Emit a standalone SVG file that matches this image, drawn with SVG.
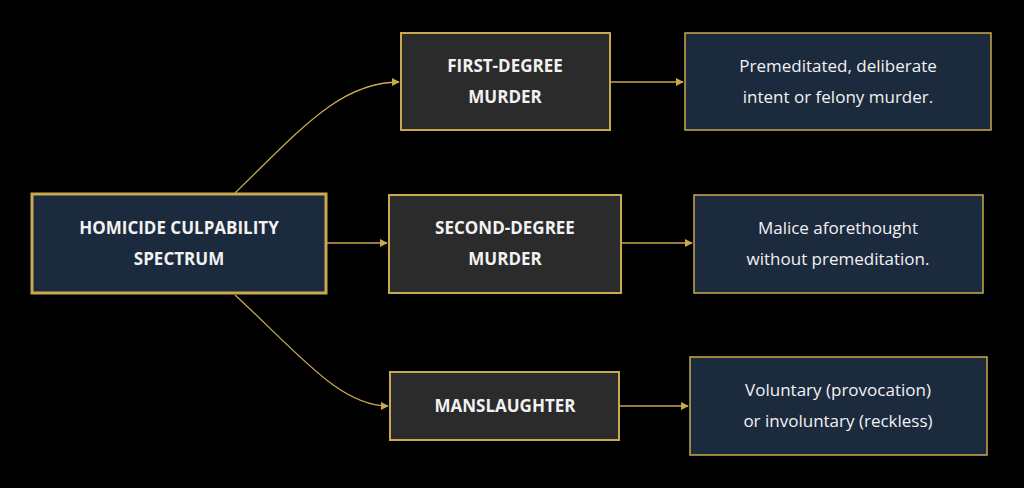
<svg xmlns="http://www.w3.org/2000/svg" width="1024" height="488" viewBox="0 0 1024 488">
<style>
text{font-family:"Open Sans","DejaVu Sans",sans-serif;fill:#f2f2f2;text-anchor:middle;font-size:17px}
.b{font-weight:bold}
.root{fill:#1c2a3e;stroke:#c9a94e;stroke-width:3}
.mid{fill:#2b2b2b;stroke:#c9a94e;stroke-width:2}
.desc{fill:#1c2a3e;stroke:#c9a94e;stroke-width:1.5}
.c{fill:none;stroke:#c9a94e;stroke-width:1.3;marker-end:url(#a)}
</style>
<defs><marker id="a" viewBox="0 0 10 10" refX="9" refY="5" markerWidth="8" markerHeight="8" orient="auto" markerUnits="userSpaceOnUse"><path d="M0,0L10,5L0,10z" fill="#c9a94e"/></marker></defs>
<rect width="1024" height="488" fill="#000"/>
<g id="connectors">
<path class="c" d="M235,193 C300,130 340,82 399,82"/>
<path class="c" d="M327,243 L387,243"/>
<path class="c" d="M235,295 C300,355 340,406 388,406"/>
<path class="c" d="M611,82 L683,82"/>
<path class="c" d="M622,243 L692,243"/>
<path class="c" d="M620,406 L688,406"/>
</g>
<g id="root"><rect class="root" x="32" y="194" width="294" height="99"/><text class="b" x="179" y="234">HOMICIDE CULPABILITY</text><text class="b" x="179" y="265">SPECTRUM</text></g>
<g id="first"><rect class="mid" x="401" y="33" width="209" height="97"/><text class="b" x="505" y="72">FIRST-DEGREE</text><text class="b" x="505" y="103">MURDER</text></g>
<g id="second"><rect class="mid" x="389" y="195" width="232" height="98"/><text class="b" x="505" y="234">SECOND-DEGREE</text><text class="b" x="505" y="265">MURDER</text></g>
<g id="mans"><rect class="mid" x="390" y="372" width="229" height="68"/><text class="b" x="505" y="412">MANSLAUGHTER</text></g>
<g id="d1"><rect class="desc" x="685" y="33" width="306" height="97"/><text x="838" y="72">Premeditated, deliberate</text><text x="838" y="103">intent or felony murder.</text></g>
<g id="d2"><rect class="desc" x="694" y="195" width="289" height="98"/><text x="838" y="234">Malice aforethought</text><text x="838" y="265">without premeditation.</text></g>
<g id="d3"><rect class="desc" x="690" y="357" width="297" height="98"/><text x="838" y="396">Voluntary (provocation)</text><text x="838" y="427">or involuntary (reckless)</text></g>
</svg>
